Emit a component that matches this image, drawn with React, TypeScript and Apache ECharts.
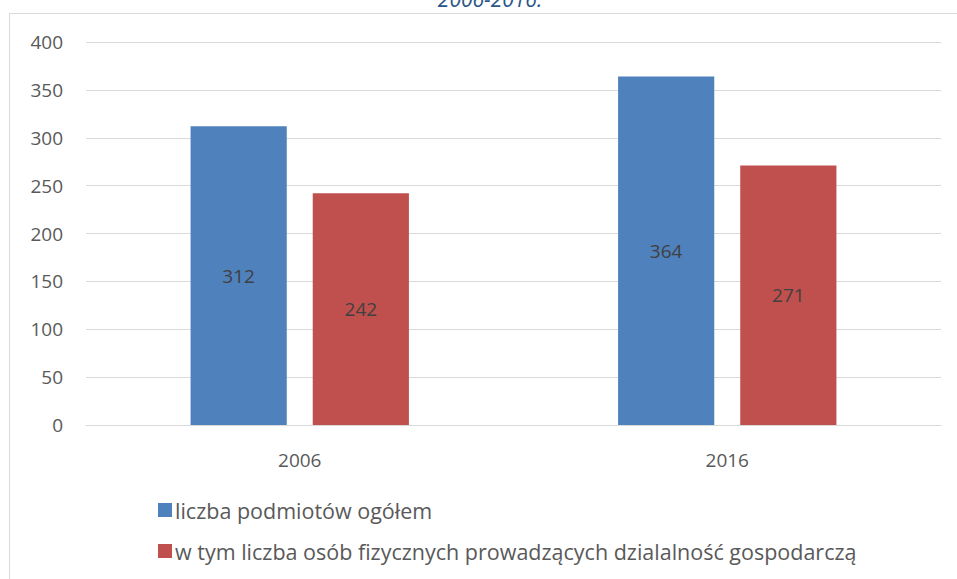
import React, { useEffect, useRef } from "react";
import * as echarts from "echarts";

const categories = ["2006", "2016"];
const seriesNames = [
  "liczba podmiotów ogółem",
  "w tym liczba osób fizycznych prowadzących dzialalność gospodarczą",
];
const totalValues = [312, 364];
const personValues = [242, 271];
const titleText = "2006-2016.";

const FONT = "'Open Sans', 'DejaVu Sans', sans-serif";

export default function App() {
  const ref = useRef<HTMLDivElement>(null);
  useEffect(() => {
    document.body.style.margin = "0";
    const chart = echarts.init(ref.current!, null, { renderer: "svg" });
    chart.setOption({
      animation: false,
      textStyle: { fontFamily: FONT },
      graphic: [
        {
          type: "rect",
          shape: { x: 9.5, y: 13.5, width: 1000, height: 700 },
          style: { fill: "none", stroke: "#d9d9d9", lineWidth: 1 },
          silent: true,
        },
        {
          type: "text",
          x: 490,
          y: 9,
          style: {
            text: titleText,
            fill: "#2B5587",
            font: `italic 21px ${FONT}`,
            align: "center",
            verticalAlign: "bottom",
          },
        },
      ],
      grid: { left: 86, right: 16, top: 42, bottom: 154 },
      legend: {
        orient: "vertical",
        left: 153,
        top: 494,
        itemWidth: 14,
        itemHeight: 14,
        itemGap: 19,
        icon: "rect",
        textStyle: { color: "#595959", fontSize: 21.5, fontFamily: FONT, padding: [0, 0, 0, -2] },
        data: seriesNames,
      },
      xAxis: {
        type: "category",
        data: categories,
        axisLine: { lineStyle: { color: "#d9d9d9" } },
        axisTick: { show: false },
        axisLabel: { color: "#595959", fontSize: 19, margin: 25 },
      },
      yAxis: {
        type: "value",
        min: 0,
        max: 400,
        interval: 50,
        axisLine: { show: false },
        axisTick: { show: false },
        axisLabel: { color: "#595959", fontSize: 19, margin: 23 },
        splitLine: { lineStyle: { color: "#d9d9d9" } },
      },
      series: [
        {
          name: seriesNames[0],
          type: "bar",
          data: totalValues,
          barWidth: "22.5%",
          barGap: "27%",
          itemStyle: { color: "#4F81BD" },
          label: { show: true, position: "inside", color: "#404040", fontSize: 19 },
        },
        {
          name: seriesNames[1],
          type: "bar",
          data: personValues,
          barWidth: "22.5%",
          itemStyle: { color: "#C0504D" },
          label: { show: true, position: "inside", color: "#404040", fontSize: 19 },
        },
      ],
    });
    return () => chart.dispose();
  }, []);
  return <div ref={ref} style={{ width: 957, height: 579 }} />;
}
